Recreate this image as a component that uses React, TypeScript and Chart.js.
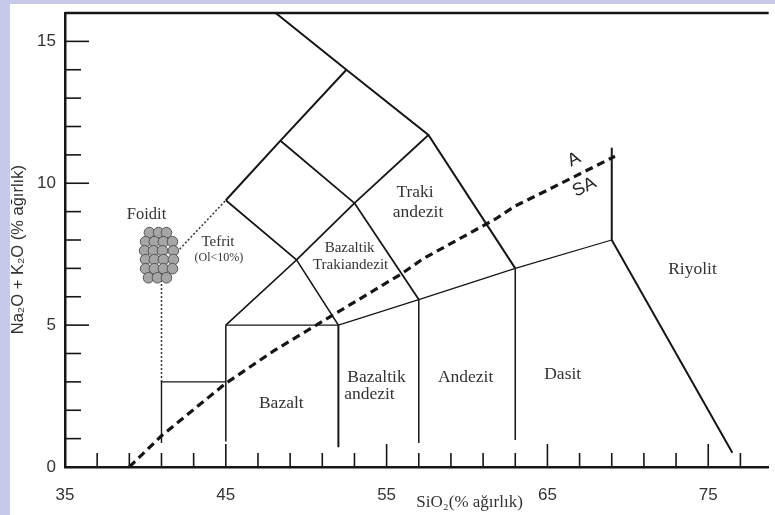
import React, { useEffect, useRef } from "react";
import { Chart, registerables } from "chart.js";

Chart.register(...registerables);

type P = [number, number];

// ---- axis ticks ----
const xLabelTicks = [35, 45, 55, 65, 75];
const yLabelTicks = [0, 5, 10, 15];
const xMarkTicks = [37, 39, 41, 43, 45, 47, 49, 51, 53, 55, 57, 59, 61, 63, 65, 67, 69, 71, 73, 75, 77];
const yMarkTicks = [1, 2, 3, 4, 5, 6, 7, 8, 9, 10, 11, 12, 13, 14, 15];
const xMajorMarks = [45, 55, 65, 75];
const yMajorMarks = [5, 10, 15];

// ---- TAS field boundaries (SiO2, Na2O+K2O) ----
const outerUpper: P[] = [[48.1, 16], [52.5, 14], [57.6, 11.7], [63, 7]];
const tephriteUpper: P[] = [[45, 9.4], [48.4, 11.5], [52.5, 14]];
const phonotephriteLower: P[] = [[48.4, 11.5], [53, 9.3], [57.6, 11.7]];
const trachyLower: P[] = [[45, 9.4], [49.4, 7.3], [53, 9.3], [57, 5.9]];
const trachybasaltLower: P[] = [[45, 5], [49.4, 7.3], [52, 5]];
const basaltTop: P[] = [[45, 5], [52, 5]];
const subalkalineTop: P[] = [[52, 5], [57, 5.9], [63, 7], [69, 8]];
const rhyoliteEdge: P[] = [[69, 11.25], [69, 8], [76.5, 0.5]];
const picrobasaltBox: P[] = [[41, 0.85], [41, 3], [45, 3]];
const basaltLeft: P[] = [[45, 0.9], [45, 5]];
const basalticAndesiteLeft: P[] = [[52, 0.7], [52, 5]];
const andesiteLeft: P[] = [[57, 0.85], [57, 5.9]];
const daciteLeft: P[] = [[63, 0.95], [63, 7]];
const foiditeDotted: P[] = [[41, 3], [41, 7], [45, 9.4]];
const alkalineDivide: P[] = [
  [39, 0], [41, 1.1], [45, 2.95], [48, 4.1], [51.5, 5.3], [55.9, 6.8],
  [57.3, 7.35], [61.8, 8.75], [63, 9.2], [64.8, 9.7], [69.2, 10.95],
];

// ---- Foidit symbol (cluster of grains) ----
const foiditCluster: P[] = [
  [40.25, 8.26], [40.82, 8.26], [41.31, 8.26],
  [40.01, 7.94], [40.56, 7.94], [41.12, 7.94], [41.68, 7.94],
  [39.95, 7.62], [40.5, 7.62], [41.06, 7.62], [41.74, 7.62],
  [40.01, 7.31], [40.56, 7.31], [41.12, 7.31], [41.74, 7.31],
  [40.01, 6.99], [40.56, 6.99], [41.12, 6.99], [41.68, 6.99],
  [40.19, 6.67], [40.75, 6.67], [41.31, 6.67],
];

// ---- field names ----
const fieldNames = ["Foidit", "Tefrit", "(Ol<10%)", "Bazaltik", "Trakiandezit", "Traki", "andezit", "Bazalt", "Bazaltik", "andezit", "Andezit", "Dasit", "Riyolit"];
const fieldX = [40.07, 44.51, 44.57, 52.7, 52.76, 56.77, 56.95, 48.45, 54.37, 53.93, 59.91, 65.95, 74.02];
const fieldY = [8.89, 7.94, 7.38, 7.73, 7.13, 9.67, 8.96, 2.24, 3.15, 2.55, 3.15, 3.26, 6.95];
const fieldFontSize = [16.5, 15, 12, 15, 15, 17.5, 17.5, 17.5, 17.5, 17.5, 17.5, 17.5, 17.5];

const seriesNames = ["A", "SA"];
const seriesX = [66.66, 67.3];
const seriesY = [10.83, 9.86];

const xTitle = "SiO₂(% ağırlık)";
const yTitle = "Na₂O + K₂O (% ağırlık)";

const INK = "#161616";
const TEXT = "#333333";
const SANS = '"Liberation Sans", Arial, sans-serif';
const SERIF = '"Liberation Serif", "Times New Roman", serif';

export default function App() {
  const ref = useRef<HTMLCanvasElement>(null);

  useEffect(() => {
    const canvas = ref.current;
    if (!canvas) return;

    const line = (pts: P[], width: number, extra: any = {}) => ({
      data: pts.map(([x, y]) => ({ x, y })),
      showLine: true,
      borderColor: INK,
      borderWidth: width,
      pointRadius: 0,
      pointHoverRadius: 0,
      fill: false,
      tension: 0,
      order: 2,
      ...extra,
    });

    const decor = {
      id: "decor",
      beforeDraw(chart: any) {
        const { ctx } = chart;
        ctx.save();
        ctx.fillStyle = "#c6c9e7";
        ctx.fillRect(0, 0, chart.width, chart.height);
        ctx.fillStyle = "#ffffff";
        ctx.fillRect(10, 4, chart.width - 10, chart.height - 4);
        ctx.restore();
      },
      afterDraw(chart: any) {
        const { ctx, chartArea } = chart;
        const xs = chart.scales.x;
        const ys = chart.scales.y;
        ctx.save();
        // top frame line
        ctx.strokeStyle = INK;
        ctx.lineWidth = 2.5;
        ctx.beginPath();
        ctx.moveTo(chartArea.left, chartArea.top);
        ctx.lineTo(chartArea.right, chartArea.top);
        ctx.stroke();
        // inward tick marks
        ctx.lineWidth = 1.6;
        xMarkTicks.forEach((v) => {
          const px = xs.getPixelForValue(v);
          const len = xMajorMarks.includes(v) ? 23 : 14;
          ctx.beginPath();
          ctx.moveTo(px, chartArea.bottom);
          ctx.lineTo(px, chartArea.bottom - len);
          ctx.stroke();
        });
        yMarkTicks.forEach((v) => {
          const py = ys.getPixelForValue(v);
          const len = yMajorMarks.includes(v) ? 24 : 16;
          ctx.beginPath();
          ctx.moveTo(chartArea.left, py);
          ctx.lineTo(chartArea.left + len, py);
          ctx.stroke();
        });
        // field names
        ctx.fillStyle = TEXT;
        ctx.textAlign = "center";
        ctx.textBaseline = "middle";
        fieldNames.forEach((name, i) => {
          ctx.font = `${fieldFontSize[i]}px ${SERIF}`;
          ctx.fillText(name, xs.getPixelForValue(fieldX[i]), ys.getPixelForValue(fieldY[i]));
        });
        // A / SA
        ctx.fillStyle = "#222";
        ctx.font = `18px ${SANS}`;
        seriesNames.forEach((name, i) => {
          ctx.save();
          ctx.translate(xs.getPixelForValue(seriesX[i]), ys.getPixelForValue(seriesY[i]));
          ctx.rotate((-27 * Math.PI) / 180);
          ctx.fillText(name, 0, 0);
          ctx.restore();
        });
        // axis titles
        ctx.fillStyle = TEXT;
        ctx.font = `17px ${SERIF}`;
        ctx.fillText(xTitle, xs.getPixelForValue(60.16), chartArea.bottom + 36);
        ctx.save();
        ctx.translate(18, ys.getPixelForValue(7.66));
        ctx.rotate(-Math.PI / 2);
        ctx.font = `16.5px ${SANS}`;
        ctx.fillText(yTitle, 0, 0);
        ctx.restore();
        ctx.restore();
      },
    };

    const chart = new Chart(canvas, {
      type: "scatter",
      data: {
        datasets: [
          {
            data: foiditCluster.map(([x, y]) => ({ x, y })),
            pointRadius: 5.3,
            pointHoverRadius: 5.3,
            backgroundColor: "#a6a6a6",
            borderColor: "#555555",
            borderWidth: 1,
            showLine: false,
            order: 0,
          },
          line(alkalineDivide, 3.2, { borderDash: [8, 5], order: 1 }),
          line(foiditeDotted, 1.5, { borderDash: [2, 2], borderColor: "#333" }),
          line(outerUpper, 2),
          line(tephriteUpper, 2),
          line(phonotephriteLower, 1.8),
          line(trachyLower, 1.8),
          line(trachybasaltLower, 1.6),
          line(basaltTop, 1.3),
          line(subalkalineTop, 1.3),
          line(rhyoliteEdge, 2),
          line(picrobasaltBox, 1.4),
          line(basaltLeft, 1.5),
          line(basalticAndesiteLeft, 2),
          line(andesiteLeft, 1.5),
          line(daciteLeft, 1.5),
        ] as any,
      },
      options: {
        responsive: false,
        maintainAspectRatio: false,
        animation: false,
        events: [],
        layout: { padding: { top: 13, left: 0, right: 0, bottom: 0 } },
        plugins: { legend: { display: false }, tooltip: { enabled: false } },
        scales: {
          x: {
            type: "linear",
            min: 35,
            max: 78.76,
            grid: { display: false, drawTicks: false },
            border: { display: true, color: INK, width: 2.5 },
            afterBuildTicks: (s: any) => {
              s.ticks = xLabelTicks.map((v) => ({ value: v }));
            },
            afterFit: (s: any) => {
              s.height = 48;
              s.paddingLeft = 0;
              s.paddingRight = 0;
              s.paddingTop = 0;
              s.paddingBottom = 0;
            },
            ticks: {
              font: { family: SANS, size: 17 },
              color: TEXT,
              padding: 18,
              autoSkip: false,
              maxRotation: 0,
            },
          },
          y: {
            type: "linear",
            min: 0,
            max: 16,
            grid: { display: false, drawTicks: false },
            border: { display: true, color: INK, width: 2.5 },
            afterBuildTicks: (s: any) => {
              s.ticks = yLabelTicks.map((v) => ({ value: v }));
            },
            afterFit: (s: any) => {
              s.width = 65;
              s.paddingLeft = 0;
              s.paddingRight = 0;
              s.paddingTop = 0;
              s.paddingBottom = 0;
            },
            ticks: {
              font: { family: SANS, size: 17 },
              color: TEXT,
              padding: 9,
              autoSkip: false,
            },
          },
        },
      } as any,
      plugins: [decor],
    });

    return () => chart.destroy();
  }, []);

  return (
    <div style={{ position: "fixed", left: 0, top: 0, width: 775, height: 515 }}>
      <canvas ref={ref} width={775} height={515} style={{ display: "block", width: 775, height: 515 }} />
    </div>
  );
}
